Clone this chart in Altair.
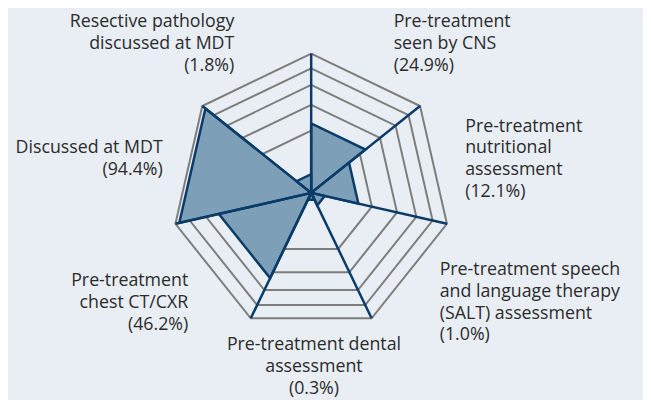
import altair as alt
import pandas as pd

# ---- data (clockwise from the top spoke) ----
categories = [
    "Pre-treatment\nseen by CNS",
    "Pre-treatment\nnutritional\nassessment",
    "Pre-treatment speech\nand language therapy\n(SALT) assessment",
    "Pre-treatment dental\nassessment",
    "Pre-treatment\nchest CT/CXR",
    "Discussed at MDT",
    "Resective pathology\ndiscussed at MDT",
]
values = [24.9, 12.1, 1.0, 0.3, 46.2, 94.4, 1.8]
grid_levels = [20, 40, 60, 80, 100]

N = len(categories)
TWO_PI_N = f"2*PI/{N}"

# ---- tables built from the arrays ----
sector_rows = []
for i, (c, v) in enumerate(zip(categories, values)):
    for o, (k, use) in enumerate([(i, 0), (i, 1), (i + 1, 1), (i, 0)]):
        sector_rows.append({"cat": c, "value": v, "k": k, "use": use, "ord": o})
sectors = pd.DataFrame(sector_rows)

grid = pd.DataFrame([{"level": L, "k": k} for L in grid_levels for k in range(N + 1)])
spokes = pd.DataFrame({"k": list(range(N))})

label_text = [f"{c}\n({v:.1f}%)" for c, v in zip(categories, values)]
labels = pd.DataFrame({
    "i": list(range(N)),
    "label": label_text,
    "nlines": [t.count("\n") + 1 for t in label_text],
})

# ---- layout ----
R_PX = 141.0
W, H = 643, 392
CX, CY = 307.0, 184.7
LH = 22
xdom = [-CX / R_PX, (W - CX) / R_PX]
ydom = [-(H - CY) / R_PX, CY / R_PX]


def X(field):
    return alt.X(f"{field}:Q", scale=alt.Scale(domain=xdom, nice=False, zero=False), axis=None)


def Y(field):
    return alt.Y(f"{field}:Q", scale=alt.Scale(domain=ydom, nice=False, zero=False), axis=None)


NAVY = "#0b3c68"
FILL = "#7e9fb8"
GREY = "#7d7d7d"
BG = "#e9eef5"
TXT = "#2b2b2b"

grid_layer = alt.Chart(grid).transform_calculate(
    r="sqrt(datum.level/100)",
    x=f"datum.r*sin({TWO_PI_N}*datum.k)",
    y=f"datum.r*cos({TWO_PI_N}*datum.k)",
).mark_line(color=GREY, strokeWidth=2).encode(
    x=X("x"), y=Y("y"), detail="level:N", order="k:Q"
)

sector_layer = alt.Chart(sectors).transform_calculate(
    r="datum.use*sqrt(datum.value/100)",
    x=f"datum.r*sin({TWO_PI_N}*datum.k)",
    y=f"datum.r*cos({TWO_PI_N}*datum.k)",
).mark_line(fill=FILL, stroke=NAVY, strokeWidth=2.5, strokeJoin="miter").encode(
    x=X("x"), y=Y("y"), detail="cat:N", order="ord:Q"
)

spoke_layer = alt.Chart(spokes).transform_calculate(
    x0="0", y0="0",
    x2=f"sin({TWO_PI_N}*datum.k)",
    y2=f"cos({TWO_PI_N}*datum.k)",
).mark_rule(color=NAVY, strokeWidth=2.5).encode(
    x=X("x0"), y=Y("y0"), x2="x2:Q", y2="y2:Q"
)

label_base = alt.Chart(labels).transform_calculate(
    ang=f"{TWO_PI_N}*(datum.i+0.5)",
    side="sin(datum.ang) > 0.2 ? 'left' : (sin(datum.ang) < -0.2 ? 'right' : 'center')",
).transform_calculate(
    lx="0.95*sin(datum.ang) + 0.02 + (datum.side == 'left' ? 0.16 : (datum.side == 'right' ? -0.16 : 0))",
    ly=f"1.22*cos(datum.ang) - 0.03 + (datum.nlines-1)/2*{LH}/{R_PX}",
)

text_layers = []
for side in ["left", "right", "center"]:
    text_layers.append(
        label_base.transform_filter(f"datum.side == '{side}'").mark_text(
            align=side, baseline="middle", lineBreak="\n", lineHeight=LH,
            font="Open Sans", fontSize=18, color=TXT,
        ).encode(x=X("lx"), y=Y("ly"), text="label:N")
    )

chart = alt.layer(grid_layer, sector_layer, spoke_layer, *text_layers).properties(
    width=W, height=H, padding=0, background=BG,
    autosize=alt.AutoSizeParams(type="none"),
).configure_view(strokeWidth=0)

chart.save("out.html", embed_options={"renderer": "svg", "actions": False})
